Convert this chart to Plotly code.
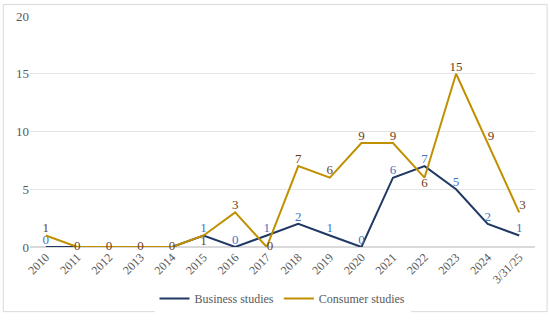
import plotly.graph_objects as go

categories = ["2010", "2011", "2012", "2013", "2014", "2015", "2016", "2017",
              "2018", "2019", "2020", "2021", "2022", "2023", "2024", "3/31/25"]
business = [0, 0, 0, 0, 0, 1, 0, 1, 2, 1, 0, 6, 7, 5, 2, 1]
consumer = [1, 0, 0, 0, 0, 1, 3, 0, 7, 6, 9, 9, 6, 15, 9, 3]
business_labels = ["0", "", "", "", "", "1", "0", "1", "2", "1", "0", "6", "7", "5", "2", "1"]
consumer_labels = [str(v) for v in consumer]

cons_pos = ["top center", "middle center", "middle center", "middle center", "middle center",
            "bottom center", "top center", "middle right", "top center", "top center",
            "top center", "top center", "bottom center", "top center", "top right", "top right"]

x = list(range(len(categories)))
font = "Liberation Serif"

fig = go.Figure()
fig.add_trace(go.Scatter(
    x=x, y=business, mode="lines+text", name="Business studies",
    line=dict(color="#203864", width=2),
    text=business_labels, textposition="top center",
    textfont=dict(color="#4472C4", size=13, family=font),
    cliponaxis=False,
))
fig.add_trace(go.Scatter(
    x=x, y=consumer, mode="lines+text", name="Consumer studies",
    line=dict(color="#BF9000", width=2),
    text=consumer_labels, textposition=cons_pos,
    textfont=dict(color="#6B3E1A", size=13, family=font),
    cliponaxis=False,
))

fig.update_layout(
    width=550, height=325,
    margin=dict(l=30, r=15, t=16, b=72),
    paper_bgcolor="white", plot_bgcolor="white",
    font=dict(family=font, size=12, color="#595959"),
    showlegend=True,
    legend=dict(orientation="h", x=0.5, xanchor="center", y=-0.16, yanchor="top",
                itemwidth=30,
                font=dict(size=12, color="#595959", family=font)),
    xaxis=dict(range=[-0.5, 15.5], tickmode="array", tickvals=x, ticktext=categories,
               tickangle=-45, showgrid=False, zeroline=False, showline=False,
               automargin=False,
               tickfont=dict(size=12, color="#595959", family=font)),
    yaxis=dict(range=[0, 20], dtick=5, showgrid=True, gridcolor="#E5E5E5",
               zeroline=True, zerolinecolor="#D9D9D9", showline=False,
               automargin=False,
               tickfont=dict(size=13, color="#595959", family=font), ticks="", ticklen=6),
    shapes=[dict(type="rect", xref="paper", yref="paper", x0=-0.053, x1=1.024,
                 y0=-0.28, y1=1.05, line=dict(color="#D9D9D9", width=1))],
)

fig.write_html("out.html", config={"displayModeBar": False},
               post_script="document.body.style.margin='0';")
